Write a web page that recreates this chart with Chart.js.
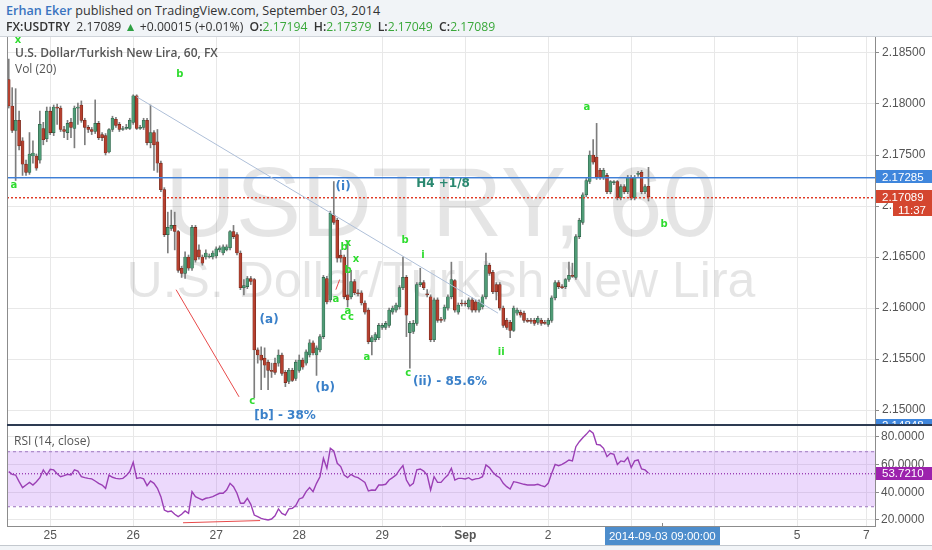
<!DOCTYPE html>
<html>
<head>
<meta charset="utf-8">
<script src="https://cdn.jsdelivr.net/npm/chart.js@4.4.1/dist/chart.umd.min.js"></script>
<style>
  body { margin: 0; width: 932px; height: 550px; background: #f1f4f7; position: relative; overflow: hidden; font-family: "Open Sans", sans-serif; }
  #panel { position: absolute; left: 0; top: 36px; width: 932px; height: 510px; background: #fff; border-top: 1px solid #cfd4da; border-bottom: 1px solid #c3c8ce; box-sizing: border-box; }
  canvas { position: absolute; left: 0; }
  #main { top: 37px; }
  #rsi { top: 426px; }
  #sep { position: absolute; left: 7px; top: 424px; width: 925px; height: 2px; background: #2d3b52; }
  .t { position: absolute; white-space: nowrap; }
  .g { color: #3aa83a; }
  b { font-weight: 600; }
</style>
</head>
<body>
<div id="panel"></div>
<canvas id="main" width="932" height="387"></canvas>
<div id="sep"></div>
<canvas id="rsi" width="932" height="124"></canvas>

<div class="t" style="left:6px;top:2px;font-size:12.6px;color:#333"><span style="color:#3a74c0;font-weight:600">Erhan Eker</span> published on TradingView.com, September 03, 2014</div>
<div class="t" style="left:6px;top:18px;font-size:12.2px;color:#333"><b>FX:USDTRY</b>&nbsp; 2.17089 <span style="color:#2ea043">&#9650;</span> +0.00015 (+0.01%)&nbsp; <b>O:</b><span class="g">2.17194</span>&nbsp; <b>H:</b><span class="g">2.17379</span>&nbsp; <b>L:</b><span class="g">2.17049</span>&nbsp; <b>C:</b><span class="g">2.17089</span></div>
<div class="t" style="left:15px;top:44px;font-size:12px;color:#555;font-weight:600">U.S. Dollar/Turkish New Lira, 60, FX</div>
<div class="t" style="left:15px;top:60px;font-size:12px;color:#555">Vol (20)</div>
<div class="t" style="left:14px;top:432px;font-size:12px;color:#555">RSI (14, close)</div>

<script>
// hourly slots, weekends skipped like the TradingView axis
const sessions = [
  ['2014-08-22', 12, 20], ['2014-08-24', 21, 23],
  ['2014-08-25', 0, 23], ['2014-08-26', 0, 23], ['2014-08-27', 0, 23], ['2014-08-28', 0, 23], ['2014-08-29', 0, 23],
  ['2014-09-01', 0, 23], ['2014-09-02', 0, 23], ['2014-09-03', 0, 23], ['2014-09-04', 0, 23], ['2014-09-05', 0, 19],
  ['2014-09-07', 21, 23]
];
const dayTicks = ['2014-08-25 00:00', '2014-08-26 00:00', '2014-08-27 00:00', '2014-08-28 00:00', '2014-08-29 00:00',
  '2014-09-01 00:00', '2014-09-02 00:00', '2014-09-03 00:00', '2014-09-04 00:00', '2014-09-05 00:00', '2014-09-07 21:00'];
const dayTickText = ['25', '26', '27', '28', '29', 'Sep', '2', '', '', '5', '7'];
const cursorTime = '2014-09-03 09:00';

const priceTicks = [2.150, 2.155, 2.160, 2.165, 2.170, 2.175, 2.180, 2.185];
const rsiTicks = [20, 40, 60, 80];

const opens = [
  2.1824, 2.1798, 2.1774, 2.1784, 2.1764, 2.1741, 2.1733, 2.1749, 2.1749, 2.1745,
  2.1776, 2.1766, 2.1793, 2.1772, 2.1797, 2.1796, 2.1775, 2.1772, 2.1782, 2.1776,
  2.1796, 2.1799, 2.1784, 2.1777, 2.1775, 2.1773, 2.1781, 2.1770, 2.1769, 2.1753,
  2.1775, 2.1785, 2.1780, 2.1775, 2.1776, 2.1776, 2.1782, 2.1808, 2.1776, 2.1777,
  2.1784, 2.1762, 2.1772, 2.1763, 2.1742, 2.1716, 2.1672, 2.1678, 2.1681, 2.1675,
  2.1639, 2.1634, 2.1650, 2.1639, 2.1679, 2.1657, 2.1650, 2.1650, 2.1650, 2.1650,
  2.1651, 2.1657, 2.1654, 2.1657, 2.1659, 2.1675, 2.1672, 2.1654, 2.1620, 2.1621,
  2.1629, 2.1628, 2.1559, 2.1554, 2.1551, 2.1547, 2.1539, 2.1546, 2.1546, 2.1554,
  2.1537, 2.1528, 2.1539, 2.1531, 2.1539, 2.1549, 2.1546, 2.1554, 2.1566, 2.1554,
  2.1559, 2.1572, 2.1629, 2.1608, 2.1691, 2.1686, 2.1652, 2.1650, 2.1613, 2.1611,
  2.1626, 2.1615, 2.1615, 2.1605, 2.1598, 2.1567, 2.1569, 2.1571, 2.1581, 2.1581,
  2.1583, 2.1596, 2.1598, 2.1601, 2.1620, 2.1630, 2.1576, 2.1577, 2.1585, 2.1623,
  2.1625, 2.1614, 2.1611, 2.1569, 2.1608, 2.1589, 2.1589, 2.1600, 2.1611, 2.1627,
  2.1596, 2.1605, 2.1605, 2.1601, 2.1608, 2.1606, 2.1598, 2.1601, 2.1611, 2.1642,
  2.1635, 2.1623, 2.1623, 2.1600, 2.1588, 2.1586, 2.1578, 2.1595, 2.1596, 2.1595,
  2.1588, 2.1588, 2.1588, 2.1586, 2.1588, 2.1586, 2.1584, 2.1588, 2.1610, 2.1625,
  2.1621, 2.1621, 2.1628, 2.1632, 2.1630, 2.1670, 2.1684, 2.1711, 2.1724, 2.1750,
  2.1748, 2.1735, 2.1728, 2.1730, 2.1714, 2.1723, 2.1724, 2.1708, 2.1719, 2.1714,
  2.1728, 2.1708, 2.1731, 2.1733, 2.1714, 2.17194
];
const highs = [
  2.1844, 2.1816, 2.1815, 2.1793, 2.1767, 2.1745, 2.1772, 2.1764, 2.1751, 2.1793,
  2.1782, 2.1797, 2.1797, 2.1799, 2.1800, 2.1798, 2.1778, 2.1784, 2.1786, 2.1798,
  2.1801, 2.1803, 2.1786, 2.1779, 2.1777, 2.1804, 2.1783, 2.1772, 2.1771, 2.1776,
  2.1788, 2.1787, 2.1782, 2.1778, 2.1780, 2.1786, 2.1809, 2.1809, 2.1779, 2.1786,
  2.1786, 2.1799, 2.1774, 2.1775, 2.1744, 2.1718, 2.1694, 2.1696, 2.1694, 2.1676,
  2.1641, 2.1655, 2.1652, 2.1681, 2.1681, 2.1662, 2.1652, 2.1657, 2.1653, 2.1656,
  2.1660, 2.1661, 2.1662, 2.1662, 2.1676, 2.1681, 2.1674, 2.1656, 2.1628, 2.1631,
  2.1631, 2.1629, 2.1561, 2.1562, 2.1561, 2.1549, 2.1546, 2.1551, 2.1559, 2.1556,
  2.1539, 2.1541, 2.1541, 2.1549, 2.1554, 2.1551, 2.1559, 2.1569, 2.1568, 2.1563,
  2.1574, 2.1632, 2.1631, 2.1695, 2.1724, 2.1688, 2.1657, 2.1652, 2.1666, 2.1637,
  2.1628, 2.1618, 2.1617, 2.1607, 2.1600, 2.1573, 2.1576, 2.1585, 2.1585, 2.1587,
  2.1600, 2.1602, 2.1605, 2.1622, 2.1650, 2.1632, 2.1587, 2.1588, 2.1625, 2.1639,
  2.1627, 2.1618, 2.1613, 2.1610, 2.1610, 2.1591, 2.1603, 2.1613, 2.1645, 2.1628,
  2.1605, 2.1608, 2.1607, 2.1610, 2.1610, 2.1608, 2.1608, 2.1613, 2.1654, 2.1644,
  2.1637, 2.1625, 2.1625, 2.1602, 2.1590, 2.1588, 2.1602, 2.1600, 2.1598, 2.1597,
  2.1590, 2.1590, 2.1590, 2.1592, 2.1590, 2.1588, 2.1590, 2.1612, 2.1627, 2.1627,
  2.1623, 2.1629, 2.1645, 2.1644, 2.1672, 2.1688, 2.1713, 2.1727, 2.1754, 2.1765,
  2.1781, 2.1737, 2.1737, 2.1732, 2.1725, 2.1725, 2.1725, 2.1721, 2.1721, 2.1730,
  2.1730, 2.1730, 2.1734, 2.1735, 2.1721, 2.17379
];
const lows = [
  2.1796, 2.1772, 2.1725, 2.1755, 2.1730, 2.1730, 2.1731, 2.1742, 2.1735, 2.1742,
  2.1760, 2.1763, 2.1770, 2.1769, 2.1780, 2.1773, 2.1767, 2.1765, 2.1767, 2.1757,
  2.1780, 2.1782, 2.1760, 2.1772, 2.1770, 2.1771, 2.1765, 2.1764, 2.1750, 2.1752,
  2.1773, 2.1777, 2.1773, 2.1774, 2.1775, 2.1775, 2.1780, 2.1775, 2.1775, 2.1775,
  2.1760, 2.1757, 2.1735, 2.1733, 2.1714, 2.1670, 2.1654, 2.1676, 2.1657, 2.1635,
  2.1630, 2.1629, 2.1637, 2.1637, 2.1645, 2.1648, 2.1642, 2.1648, 2.1649, 2.1648,
  2.1649, 2.1655, 2.1652, 2.1656, 2.1657, 2.1668, 2.1652, 2.1618, 2.1613, 2.1619,
  2.1623, 2.1512, 2.1546, 2.1520, 2.1532, 2.1520, 2.1532, 2.1535, 2.1543, 2.1534,
  2.1523, 2.1526, 2.1528, 2.1529, 2.1537, 2.1540, 2.1544, 2.1552, 2.1554, 2.1534,
  2.1557, 2.1570, 2.1604, 2.1606, 2.1682, 2.1645, 2.1645, 2.1609, 2.1601, 2.1609,
  2.1613, 2.1612, 2.1603, 2.1594, 2.1565, 2.1554, 2.1567, 2.1569, 2.1579, 2.1579,
  2.1581, 2.1594, 2.1596, 2.1599, 2.1618, 2.1572, 2.1541, 2.1575, 2.1583, 2.1621,
  2.1618, 2.1611, 2.1567, 2.1567, 2.1586, 2.1586, 2.1587, 2.1598, 2.1609, 2.1596,
  2.1594, 2.1602, 2.1602, 2.1599, 2.1596, 2.1596, 2.1596, 2.1599, 2.1609, 2.1632,
  2.1614, 2.1608, 2.1598, 2.1581, 2.1579, 2.1571, 2.1577, 2.1593, 2.1591, 2.1586,
  2.1586, 2.1585, 2.1583, 2.1584, 2.1583, 2.1584, 2.1582, 2.1586, 2.1608, 2.1619,
  2.1619, 2.1619, 2.1626, 2.1630, 2.1628, 2.1668, 2.1682, 2.1709, 2.1722, 2.1741,
  2.1726, 2.1726, 2.1726, 2.1712, 2.1712, 2.1721, 2.1706, 2.1706, 2.1712, 2.1712,
  2.1706, 2.1706, 2.1729, 2.1712, 2.1712, 2.17049
];
const closes = [
  2.1798, 2.1774, 2.1784, 2.1759, 2.1741, 2.1733, 2.1751, 2.1752, 2.1737, 2.1780,
  2.1765, 2.1793, 2.1772, 2.1797, 2.1796, 2.1775, 2.1773, 2.1781, 2.1777, 2.1796,
  2.1797, 2.1784, 2.1777, 2.1775, 2.1773, 2.1781, 2.1767, 2.1767, 2.1752, 2.1775,
  2.1786, 2.1779, 2.1775, 2.1776, 2.1777, 2.1784, 2.1808, 2.1776, 2.1777, 2.1784,
  2.1762, 2.1772, 2.1760, 2.1742, 2.1716, 2.1672, 2.1679, 2.1681, 2.1675, 2.1637,
  2.1634, 2.1650, 2.1639, 2.1679, 2.1647, 2.1650, 2.1644, 2.1654, 2.1651, 2.1654,
  2.1658, 2.1659, 2.1660, 2.1660, 2.1675, 2.1670, 2.1654, 2.1620, 2.1622, 2.1629,
  2.1626, 2.1559, 2.1554, 2.1549, 2.1544, 2.1539, 2.1538, 2.1537, 2.1554, 2.1536,
  2.1527, 2.1539, 2.1529, 2.1547, 2.1549, 2.1542, 2.1557, 2.1566, 2.1556, 2.1561,
  2.1572, 2.1630, 2.1606, 2.1693, 2.1684, 2.1649, 2.1649, 2.1611, 2.1608, 2.1626,
  2.1615, 2.1614, 2.1605, 2.1596, 2.1567, 2.1571, 2.1574, 2.1583, 2.1583, 2.1585,
  2.1598, 2.1600, 2.1603, 2.1620, 2.1630, 2.1593, 2.1585, 2.1585, 2.1623, 2.1625,
  2.1620, 2.1613, 2.1569, 2.1608, 2.1588, 2.1588, 2.1601, 2.1611, 2.1628, 2.1598,
  2.1603, 2.1604, 2.1604, 2.1608, 2.1598, 2.1598, 2.1606, 2.1611, 2.1642, 2.1634,
  2.1616, 2.1616, 2.1600, 2.1583, 2.1581, 2.1578, 2.1600, 2.1598, 2.1593, 2.1588,
  2.1587, 2.1587, 2.1585, 2.1590, 2.1585, 2.1585, 2.1588, 2.1610, 2.1625, 2.1621,
  2.1620, 2.1628, 2.1632, 2.1631, 2.1670, 2.1686, 2.1711, 2.1725, 2.1750, 2.1743,
  2.1728, 2.1728, 2.1735, 2.1714, 2.1724, 2.1724, 2.1708, 2.1719, 2.1714, 2.1728,
  2.1708, 2.1728, 2.1732, 2.1714, 2.1719, 2.17089
];
const rsi14 = [
  55.0, 53.0, 52.5, 47.7, 43.4, 45.3, 47.2, 45.3, 47.7, 50.6,
  56.2, 52.5, 56.6, 56.2, 53.5, 51.3, 52.1, 53.0, 52.5, 56.2,
  55.4, 51.3, 50.6, 50.1, 49.7, 48.2, 46.5, 45.3, 42.9, 52.5,
  50.9, 50.1, 49.7, 50.1, 52.1, 55.0, 61.7, 50.1, 50.6, 49.7,
  44.8, 48.2, 46.5, 42.9, 36.9, 27.2, 26.0, 26.5, 24.1, 22.4,
  24.1, 26.5, 24.8, 40.5, 36.9, 35.7, 34.5, 35.7, 36.2, 36.9,
  38.1, 39.3, 39.3, 41.7, 46.5, 44.1, 39.3, 32.1, 32.1, 35.7,
  31.3, 23.6, 22.4, 21.2, 20.5, 20.0, 20.7, 23.1, 28.0, 24.8,
  23.6, 28.0, 28.4, 30.4, 35.2, 36.2, 40.5, 43.4, 40.5, 46.5,
  51.3, 64.6, 57.4, 71.8, 69.9, 61.0, 58.6, 52.5, 50.6, 53.0,
  51.3, 50.6, 48.9, 47.2, 41.0, 41.7, 41.5, 45.3, 45.3, 45.8,
  48.9, 50.6, 52.5, 56.2, 59.3, 48.9, 44.6, 46.5, 56.2, 56.9,
  55.4, 52.5, 41.7, 51.3, 47.2, 47.2, 50.1, 52.5, 57.4, 48.9,
  50.1, 50.1, 49.7, 50.6, 48.9, 49.7, 50.1, 51.3, 59.8, 57.9,
  54.5, 52.1, 50.6, 46.5, 44.1, 42.4, 47.7, 47.2, 46.5, 45.8,
  45.3, 45.3, 45.3, 45.8, 44.8, 44.1, 46.5, 53.7, 60.2, 59.3,
  60.2, 61.7, 63.4, 62.7, 73.0, 76.6, 79.5, 81.9, 84.8, 82.7,
  74.7, 74.2, 71.8, 65.8, 68.2, 67.5, 60.2, 62.7, 62.2, 65.3,
  57.9, 62.7, 63.4, 56.9, 56.2, 53.721
];

// levels and drawn annotations, in [slot, price]
const h4Level = 2.17285;
const lastPrice = 2.17089;
const lowerLevel = 2.14848;
const rsiLast = 53.721;
const trendLines = [
  [[37, 2.1807], [141.5, 2.1595], '#aebfd8'],
  [[48.4, 2.1618], [66.6, 2.1513], '#e84a4a'],
  [[94.6, 2.1618], [95.7, 2.1628], '#e84a4a']
];
const rsiLines = [[[50.4, 18.0], [72.7, 19.6], '#e84a4a']];
const greenMarks = [
  ['x', 2.7, 2.1862], ['b', 49.5, 2.1829], ['a', 1.5, 2.1720], ['a', 167.2, 2.1797], ['b', 189.5, 2.1682],
  ['b', 114.6, 2.1666], ['i', 119.8, 2.1652], ['b', 97, 2.1659], ['x', 98.1, 2.1663], ['x', 100.4, 2.1648],
  ['b', 98.1, 2.1637], ['a', 94.6, 2.1608], ['a', 98.1, 2.1597], ['c', 96.7, 2.1591], ['c', 99, 2.1591],
  ['a', 103.6, 2.1552], ['c', 115.5, 2.1536], ['ii', 142.4, 2.1557], ['c', 70.4, 2.1509]
];
const blueMarks = [
  ['(i)', 96.7, 2.1719], ['(a)', 75.3, 2.1588], ['(b)', 91.5, 2.1522],
  ['(ii) - 85.6%', 127.6, 2.1528], ['[b] - 38%', 79.9, 2.1494]
];
const tealMarks = [['H4 +1/8', 125.6, 2.1722]];

const labels = [];
sessions.forEach(([d, h0, h1]) => {
  for (let h = h0; h <= h1; h++) labels.push(d + ' ' + String(h).padStart(2, '0') + ':00');
});
const tickIdx = new Map(dayTicks.map((d, i) => [labels.indexOf(d), dayTickText[i]]));
const sepIdx = labels.indexOf('2014-09-01 00:00');
const up = closes.map((c, i) => c > opens[i]);

const gridColor = (c) => tickIdx.has(c.index) ? '#e8e8e8' : 'rgba(0,0,0,0)';
const fitAxis = (s) => { s.width = 57; s.paddingTop = 0; s.paddingBottom = 0; };

function tag(ctx, y, text, bg, x0, x1, h) {
  ctx.fillStyle = bg;
  ctx.fillRect(x0, Math.round(y - h / 2), x1 - x0, h);
  ctx.fillStyle = '#fff';
  ctx.font = '11.5px "Liberation Sans"';
  ctx.textAlign = 'left';
  ctx.textBaseline = 'middle';
  ctx.fillText(text, x0 + 6, y + 0.5);
}

function segment(ctx, sx, sy, p, q, color) {
  ctx.strokeStyle = color;
  ctx.lineWidth = 1;
  ctx.beginPath();
  ctx.moveTo(sx.getPixelForValue(p[0]), sy.getPixelForValue(p[1]));
  ctx.lineTo(sx.getPixelForValue(q[0]), sy.getPixelForValue(q[1]));
  ctx.stroke();
}

// horizontal level, two rows so the colour survives; dash 0 = solid
function level(ctx, a, py, color, soft, dash, gap) {
  const yy = Math.round(py);
  const rows = [[yy, color], [yy + 1, soft]];
  rows.forEach(([ry, c]) => {
    ctx.fillStyle = c;
    if (!dash) { ctx.fillRect(a.left, ry, a.right - a.left, 1); return; }
    for (let xx = a.left; xx < a.right; xx += dash + gap) ctx.fillRect(xx, ry, dash, 1);
  });
}

const mainOverlay = {
  id: 'mainOverlay',
  beforeDatasetsDraw(chart) {
    const { ctx, chartArea: a } = chart;
    const cx = (a.left + a.right) / 2;
    ctx.save();
    ctx.fillStyle = 'rgba(0,0,0,0.1)';
    ctx.textAlign = 'center';
    ctx.textBaseline = 'alphabetic';
    ctx.font = '98px "Liberation Sans"';
    ctx.fillText('USDTRY, 60', cx, a.top + 199);
    ctx.font = '50px "Liberation Sans"';
    ctx.fillText('U.S. Dollar/Turkish New Lira', cx, a.top + 260);
    ctx.restore();
  },
  afterDatasetsDraw(chart) {
    const { ctx, chartArea: a, scales: { x, y } } = chart;
    ctx.save();
    level(ctx, a, y.getPixelForValue(h4Level), '#3f7fd6', 'rgba(63,127,214,0.45)', 0, 0);
    level(ctx, a, y.getPixelForValue(lastPrice), '#e03a25', 'rgba(224,58,37,0.45)', 2, 2);
    trendLines.forEach(([p, q, c]) => segment(ctx, x, y, p, q, c));

    ctx.textAlign = 'center';
    ctx.textBaseline = 'middle';
    ctx.font = 'bold 10px "DejaVu Sans"';
    ctx.fillStyle = '#2fdc2f';
    greenMarks.forEach(([t, s, p]) => ctx.fillText(t, x.getPixelForValue(s), y.getPixelForValue(p)));
    ctx.font = 'bold 12px "DejaVu Sans"';
    ctx.fillStyle = '#3a80c9';
    blueMarks.forEach(([t, s, p]) => ctx.fillText(t, x.getPixelForValue(s), y.getPixelForValue(p)));
    ctx.fillStyle = '#2a8870';
    tealMarks.forEach(([t, s, p]) => ctx.fillText(t, x.getPixelForValue(s), y.getPixelForValue(p)));
    ctx.restore();
  },
  afterDraw(chart) {
    const { ctx, chartArea: a, scales: { y } } = chart;
    ctx.save();
    ctx.fillStyle = '#8c8c8c';
    ctx.fillRect(a.left, a.top, 1, a.bottom - a.top);
    tag(ctx, y.getPixelForValue(h4Level), h4Level.toFixed(5), '#3f86dc', a.right + 1, 932, 13);
    const ly = y.getPixelForValue(lastPrice);
    tag(ctx, ly, lastPrice.toFixed(5), '#d4462f', a.right + 1, 932, 13);
    ctx.fillStyle = '#d4462f';
    ctx.fillRect(893, Math.round(ly + 6.5), 39, 13);
    ctx.fillStyle = '#fff';
    ctx.textAlign = 'center';
    ctx.fillText('11:37', 912, ly + 13.5);
    tag(ctx, y.getPixelForValue(lowerLevel), lowerLevel.toFixed(5), '#3f86dc', a.right + 1, 932, 13);
    ctx.restore();
  }
};

const rsiOverlay = {
  id: 'rsiOverlay',
  beforeDatasetsDraw(chart) {
    const { ctx, chartArea: a, scales: { y } } = chart;
    const y70 = y.getPixelForValue(70), y30 = y.getPixelForValue(30);
    ctx.save();
    ctx.fillStyle = 'rgba(170,80,240,0.22)';
    ctx.fillRect(a.left, y70, a.right - a.left, y30 - y70);
    level(ctx, a, y70, '#b08fcc', 'rgba(176,143,204,0.3)', 3, 3);
    level(ctx, a, y30, '#b08fcc', 'rgba(176,143,204,0.3)', 3, 3);
    level(ctx, a, y.getPixelForValue(rsiLast), '#9b3fb5', 'rgba(155,63,181,0.4)', 1, 2);
    ctx.restore();
  },
  afterDatasetsDraw(chart) {
    const { ctx, scales: { x, y } } = chart;
    ctx.save();
    rsiLines.forEach(([p, q, c]) => segment(ctx, x, y, p, q, c));
    ctx.restore();
  },
  afterDraw(chart) {
    const { ctx, chartArea: a, scales: { x, y } } = chart;
    ctx.save();
    ctx.fillStyle = '#8c8c8c';
    ctx.fillRect(a.left, a.top, 1, a.bottom - a.top);
    tag(ctx, y.getPixelForValue(rsiLast), rsiLast.toFixed(4), '#9c22ad', a.right + 1, 932, 13);
    const cx = x.getPixelForValue(labels.indexOf(cursorTime));
    ctx.fillStyle = '#888';
    ctx.fillRect(Math.round(cx), a.bottom - 3, 1, 4);
    ctx.font = '11.5px "Liberation Sans"';
    const text = '2014-09-03 09:00:00';
    const w = ctx.measureText(text).width + 8;
    ctx.fillStyle = '#4d8dcc';
    ctx.fillRect(Math.round(cx - w / 2), a.bottom + 1, Math.round(w), 18);
    ctx.fillStyle = '#fff';
    ctx.textAlign = 'center';
    ctx.textBaseline = 'middle';
    ctx.fillText(text, cx, a.bottom + 10.5);
    ctx.restore();
  }
};

new Chart(document.getElementById('main'), {
  type: 'bar',
  data: {
    labels: labels,
    datasets: [{
      data: lows.map((l, i) => [l, highs[i]]),
      backgroundColor: '#7d7d7d',
      barThickness: 1,
      grouped: false,
      order: 2
    }, {
      data: opens.map((o, i) => [o, closes[i]]),
      backgroundColor: up.map(u => u ? '#4f9b76' : '#b5402f'),
      borderColor: up.map(u => u ? '#2d5f46' : '#6b2519'),
      borderWidth: 0.6,
      borderSkipped: false,
      barThickness: 3,
      minBarLength: 1,
      grouped: false,
      order: 1
    }]
  },
  options: {
    responsive: false,
    animation: false,
    layout: { padding: { left: 7 } },
    plugins: { legend: { display: false }, tooltip: { enabled: false } },
    scales: {
      x: {
        offset: true,
        grid: { offset: false, drawTicks: false, color: gridColor },
        border: { display: false },
        ticks: { display: false, autoSkip: false, maxRotation: 0, minRotation: 0 }
      },
      y: {
        position: 'right',
        min: 2.148638,
        max: 2.186564,
        afterBuildTicks: (s) => { s.ticks = priceTicks.map(v => ({ value: v })); },
        afterFit: fitAxis,
        grid: { color: '#e8e8e8', tickColor: '#8c8c8c', tickLength: 4 },
        border: { color: '#8c8c8c' },
        ticks: {
          padding: 3,
          color: '#555',
          font: { family: 'Liberation Sans', size: 12 },
          callback: (v) => v.toFixed(5)
        }
      }
    }
  },
  plugins: [mainOverlay]
});

new Chart(document.getElementById('rsi'), {
  type: 'line',
  data: {
    labels: labels,
    datasets: [{
      data: rsi14,
      borderColor: '#9b3fb5',
      borderWidth: 1.4,
      pointRadius: 0,
      tension: 0
    }]
  },
  options: {
    responsive: false,
    animation: false,
    layout: { padding: { left: 7 } },
    plugins: { legend: { display: false }, tooltip: { enabled: false } },
    scales: {
      x: {
        offset: true,
        afterFit: (s) => { s.height = 24; s.paddingBottom = 0; s.paddingTop = 0; },
        grid: { offset: false, drawTicks: false, color: gridColor },
        border: { color: '#8c8c8c' },
        ticks: {
          autoSkip: false, maxRotation: 0, minRotation: 0, padding: 2,
          color: '#555',
          font: (c) => ({ family: 'Liberation Sans', size: 12, weight: c.index === sepIdx ? 'bold' : 'normal' }),
          callback: (v, i) => tickIdx.has(i) ? tickIdx.get(i) : ''
        }
      },
      y: {
        position: 'right',
        min: 15.66,
        max: 87.95,
        afterBuildTicks: (s) => { s.ticks = rsiTicks.map(v => ({ value: v })); },
        afterFit: fitAxis,
        grid: { color: '#e8e8e8', tickColor: '#8c8c8c', tickLength: 4 },
        border: { color: '#8c8c8c' },
        ticks: {
          padding: 2,
          color: '#555',
          font: { family: 'Liberation Sans', size: 12 },
          callback: (v) => v.toFixed(4)
        }
      }
    }
  },
  plugins: [rsiOverlay]
});
</script>
</body>
</html>
